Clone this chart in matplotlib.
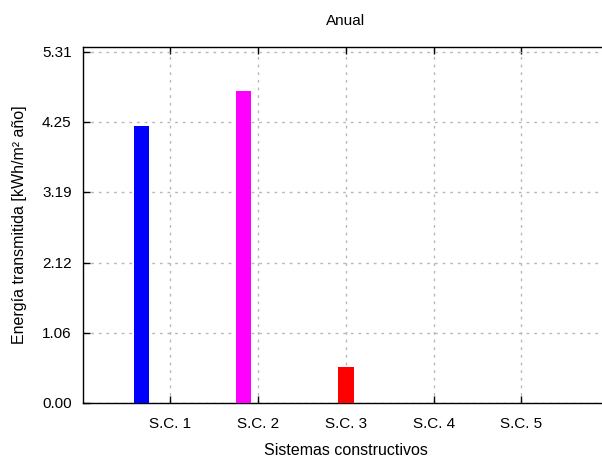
import numpy as np
import matplotlib.pyplot as plt

plt.rcParams['font.family'] = ['Liberation Sans', 'DejaVu Sans']
plt.rcParams['font.size'] = 11

systems = ['S.C. 1', 'S.C. 2', 'S.C. 3', 'S.C. 4', 'S.C. 5']
energy = [4.19, 4.71, 0.55, 0.0, 0.0]  # kWh/m2 año, one bar per system
colors = ['#0000ff', '#ff00ff', '#ff0000', '#00c000', '#00ffff']
yticks = [0.00, 1.06, 2.12, 3.19, 4.25, 5.31]

W, H = 602, 462
fig = plt.figure(figsize=(W / 100, H / 100), dpi=100)
# gnuplot-style frame, right part runs off the picture
left, right, top, bottom = 82.7, 609.0, 47.3, 403.0
ax = fig.add_axes([left / W, 1 - bottom / H, (right - left) / W, (bottom - top) / H])

x = np.arange(1, len(systems) + 1)
step = 0.165
for i, (val, col) in enumerate(zip(energy, colors)):
    ax.bar(x[i] + (i - 2) * step, val, width=0.175, color=col, linewidth=0, zorder=3)

ax.set_xlim(0, 6)
ax.set_ylim(0, 5.375)
ax.set_xticks(x)
ax.set_xticklabels(systems)
ax.set_yticks(yticks)
ax.set_yticklabels([f'{t:.2f}' for t in yticks])

ax.grid(True, color='#b8b8b8', linestyle=(0, (2, 3.5)), linewidth=1, zorder=0)
ax.tick_params(direction='in', length=5, width=1, top=True, right=True, pad=8)
ax.tick_params(axis='x', pad=10)
for s in ax.spines.values():
    s.set_linewidth(1)
    s.set_color('#000000')

ax.set_title('Anual', fontsize=11, pad=16)
ax.set_xlabel('Sistemas constructivos', fontsize=11.5, labelpad=9)
ax.set_ylabel('Energía transmitida [kWh/m² año]', fontsize=11.5, labelpad=11)

fig.savefig('out.png', dpi=100)
